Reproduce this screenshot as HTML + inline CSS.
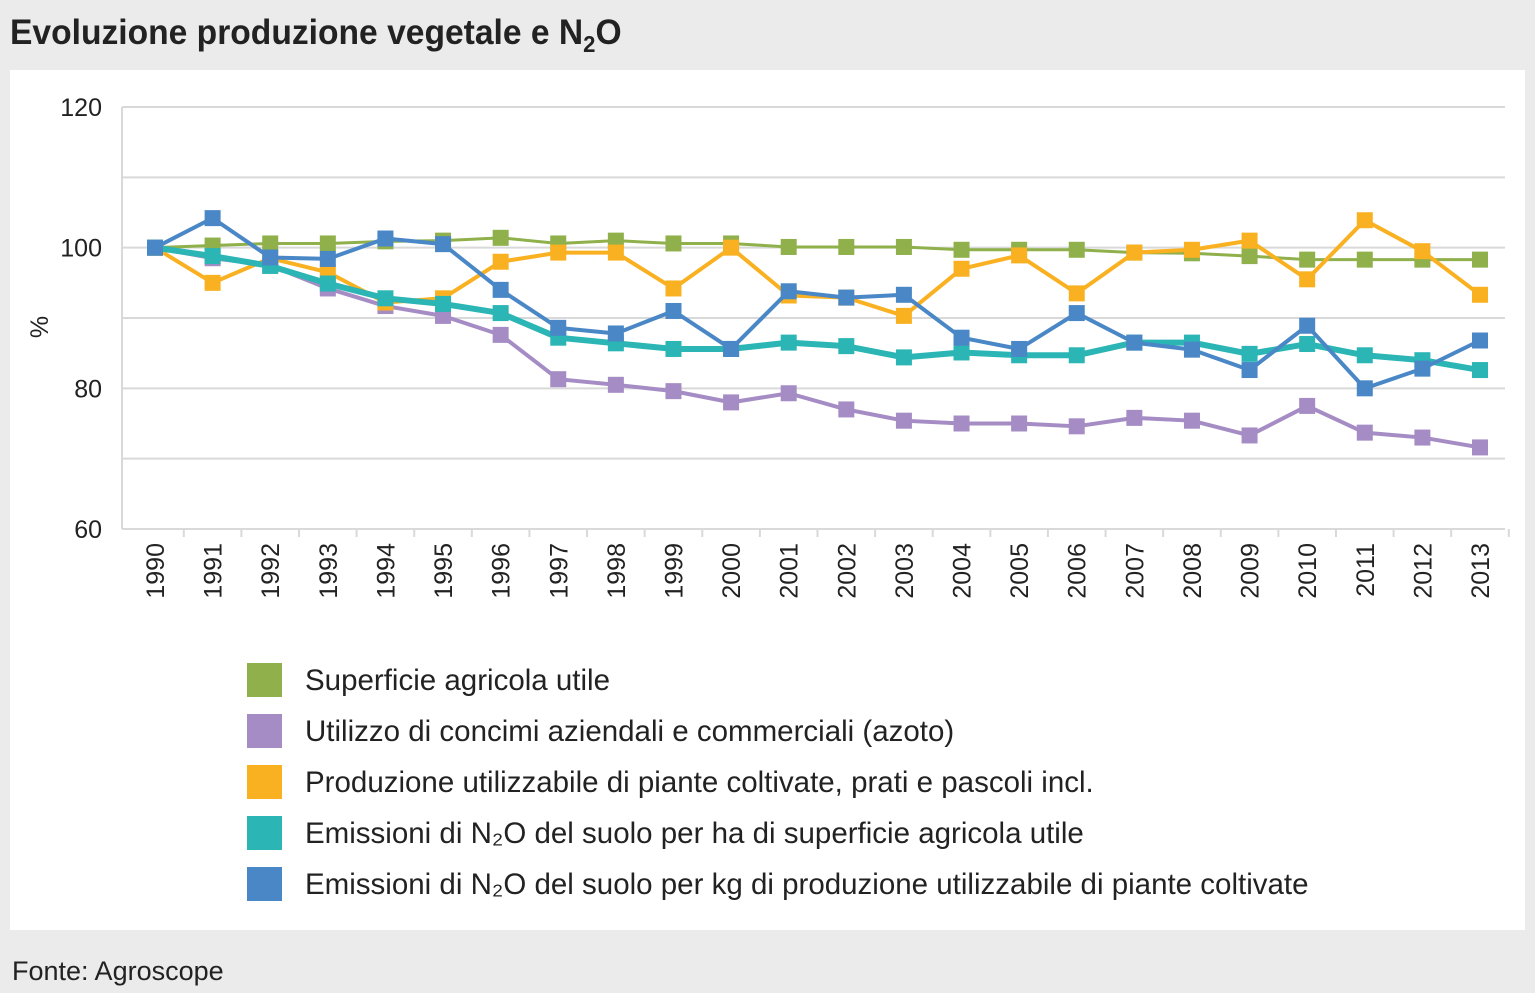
<!DOCTYPE html>
<html><head><meta charset="utf-8"><style>
body{margin:0;width:1535px;height:993px;background:#ebebeb;font-family:"Liberation Sans",sans-serif;overflow:hidden;position:relative}
</style></head><body>
<div style="position:absolute;left:10px;top:13px;font-size:35px;font-weight:bold;color:#222;transform:scaleX(0.96);transform-origin:left;white-space:nowrap">Evoluzione produzione vegetale e N<sub style="font-size:23px">2</sub>O</div>
<div style="position:absolute;left:10px;top:70px;width:1515px;height:860px;background:#fff"></div>
<svg id="c" width="1535" height="993" style="position:absolute;left:0;top:0"></svg>
<div style="position:absolute;left:12px;top:956px;font-size:27px;color:#222">Fonte: Agroscope</div>
<script>
const years=[1990,1991,1992,1993,1994,1995,1996,1997,1998,1999,2000,2001,2002,2003,2004,2005,2006,2007,2008,2009,2010,2011,2012,2013];
const yTicks=[60,70,80,90,100,110,120];
const yLabels=[60,80,100,120];
const green=[100,100.3,100.6,100.6,100.9,101,101.4,100.6,101,100.6,100.6,100.1,100.1,100.1,99.7,99.7,99.7,99.3,99.2,98.8,98.3,98.3,98.3,98.3];
const purple=[100,98.5,97.5,94.2,91.7,90.3,87.6,81.3,80.5,79.6,78,79.3,77,75.4,75,75,74.6,75.8,75.4,73.3,77.5,73.7,73,71.6];
const orange=[100,95,98.5,96.5,92.2,92.8,98,99.3,99.3,94.2,100,93.2,92.9,90.3,97,98.9,93.5,99.3,99.7,101,95.5,103.9,99.5,93.3];
const teal=[100,98.8,97.4,94.9,92.8,92,90.7,87.2,86.4,85.6,85.6,86.5,86,84.4,85.1,84.7,84.7,86.5,86.5,84.9,86.3,84.7,84,82.6];
const blue=[100,104.2,98.6,98.4,101.3,100.5,94,88.6,87.8,91,85.6,93.8,92.9,93.3,87.2,85.6,90.7,86.5,85.5,82.6,88.9,80,82.8,86.8];
const seriesNames=["Superficie agricola utile","Utilizzo di concimi aziendali e commerciali (azoto)","Produzione utilizzabile di piante coltivate, prati e pascoli incl.","Emissioni di N₂O del suolo per ha di superficie agricola utile","Emissioni di N₂O del suolo per kg di produzione utilizzabile di piante coltivate"];
const series=[green,purple,orange,teal,blue];
const colors=["#8fb04b","#a58cc4","#f9b122","#2bb5b5","#4a87c6"];
const widths=[3,4,4,6,4];
const keys=["green","purple","orange","teal","blue"];
const svg=document.getElementById('c');const NS="http://www.w3.org/2000/svg";
const X0=122,X1=1505;
const x=i=>155+i*(1480-155)/(years.length-1);
const y=v=>529-(v-60)*(422/60);
function mk(t,a){const e=document.createElementNS(NS,t);for(const k in a)e.setAttribute(k,a[k]);svg.appendChild(e);return e;}
yTicks.forEach(t=>{const l=mk('line',{x1:X0,x2:X1,y1:y(t),y2:y(t),stroke:'#d9d9d9','stroke-width':2});

});
const ax=mk('line',{x1:X0,x2:X0,y1:y(120),y2:y(60),stroke:'#d9d9d9','stroke-width':2});


yLabels.forEach(t=>{const e=mk('text',{x:102,y:y(t)+9,'text-anchor':'end','font-size':25,fill:'#222'});e.textContent=t;

});
const yt=mk('text',{x:48,y:327,'font-size':25,fill:'#222',transform:'rotate(-90 48 327)','text-anchor':'middle'});yt.textContent='%';


years.forEach((yr,i)=>{const tk=mk('line',{x1:x(i)+28.8,x2:x(i)+28.8,y1:529,y2:537,stroke:'#d9d9d9','stroke-width':2});


const e=mk('text',{x:x(i)+9,y:543,'font-size':25,fill:'#222','text-anchor':'end',transform:`rotate(-90 ${x(i)+9} 543)`});e.textContent=yr;

});
series.forEach((s,k)=>{const p=mk('polyline',{points:s.map((v,i)=>x(i)+','+y(v)).join(' '),fill:'none',stroke:colors[k],'stroke-width':widths[k],'stroke-linejoin':'round'});


s.forEach((v,i)=>{const r=mk('rect',{x:x(i)-8,y:y(v)-8,width:16,height:16,fill:colors[k]});

});});
seriesNames.forEach((n,k)=>{const cy=680+k*51;
const r=mk('rect',{x:247,y:cy-17,width:35,height:34,fill:colors[k]});


const t=mk('text',{x:305,y:cy+10,'font-size':29.5,fill:'#222'});t.textContent=n;

});
</script>
</body></html>
